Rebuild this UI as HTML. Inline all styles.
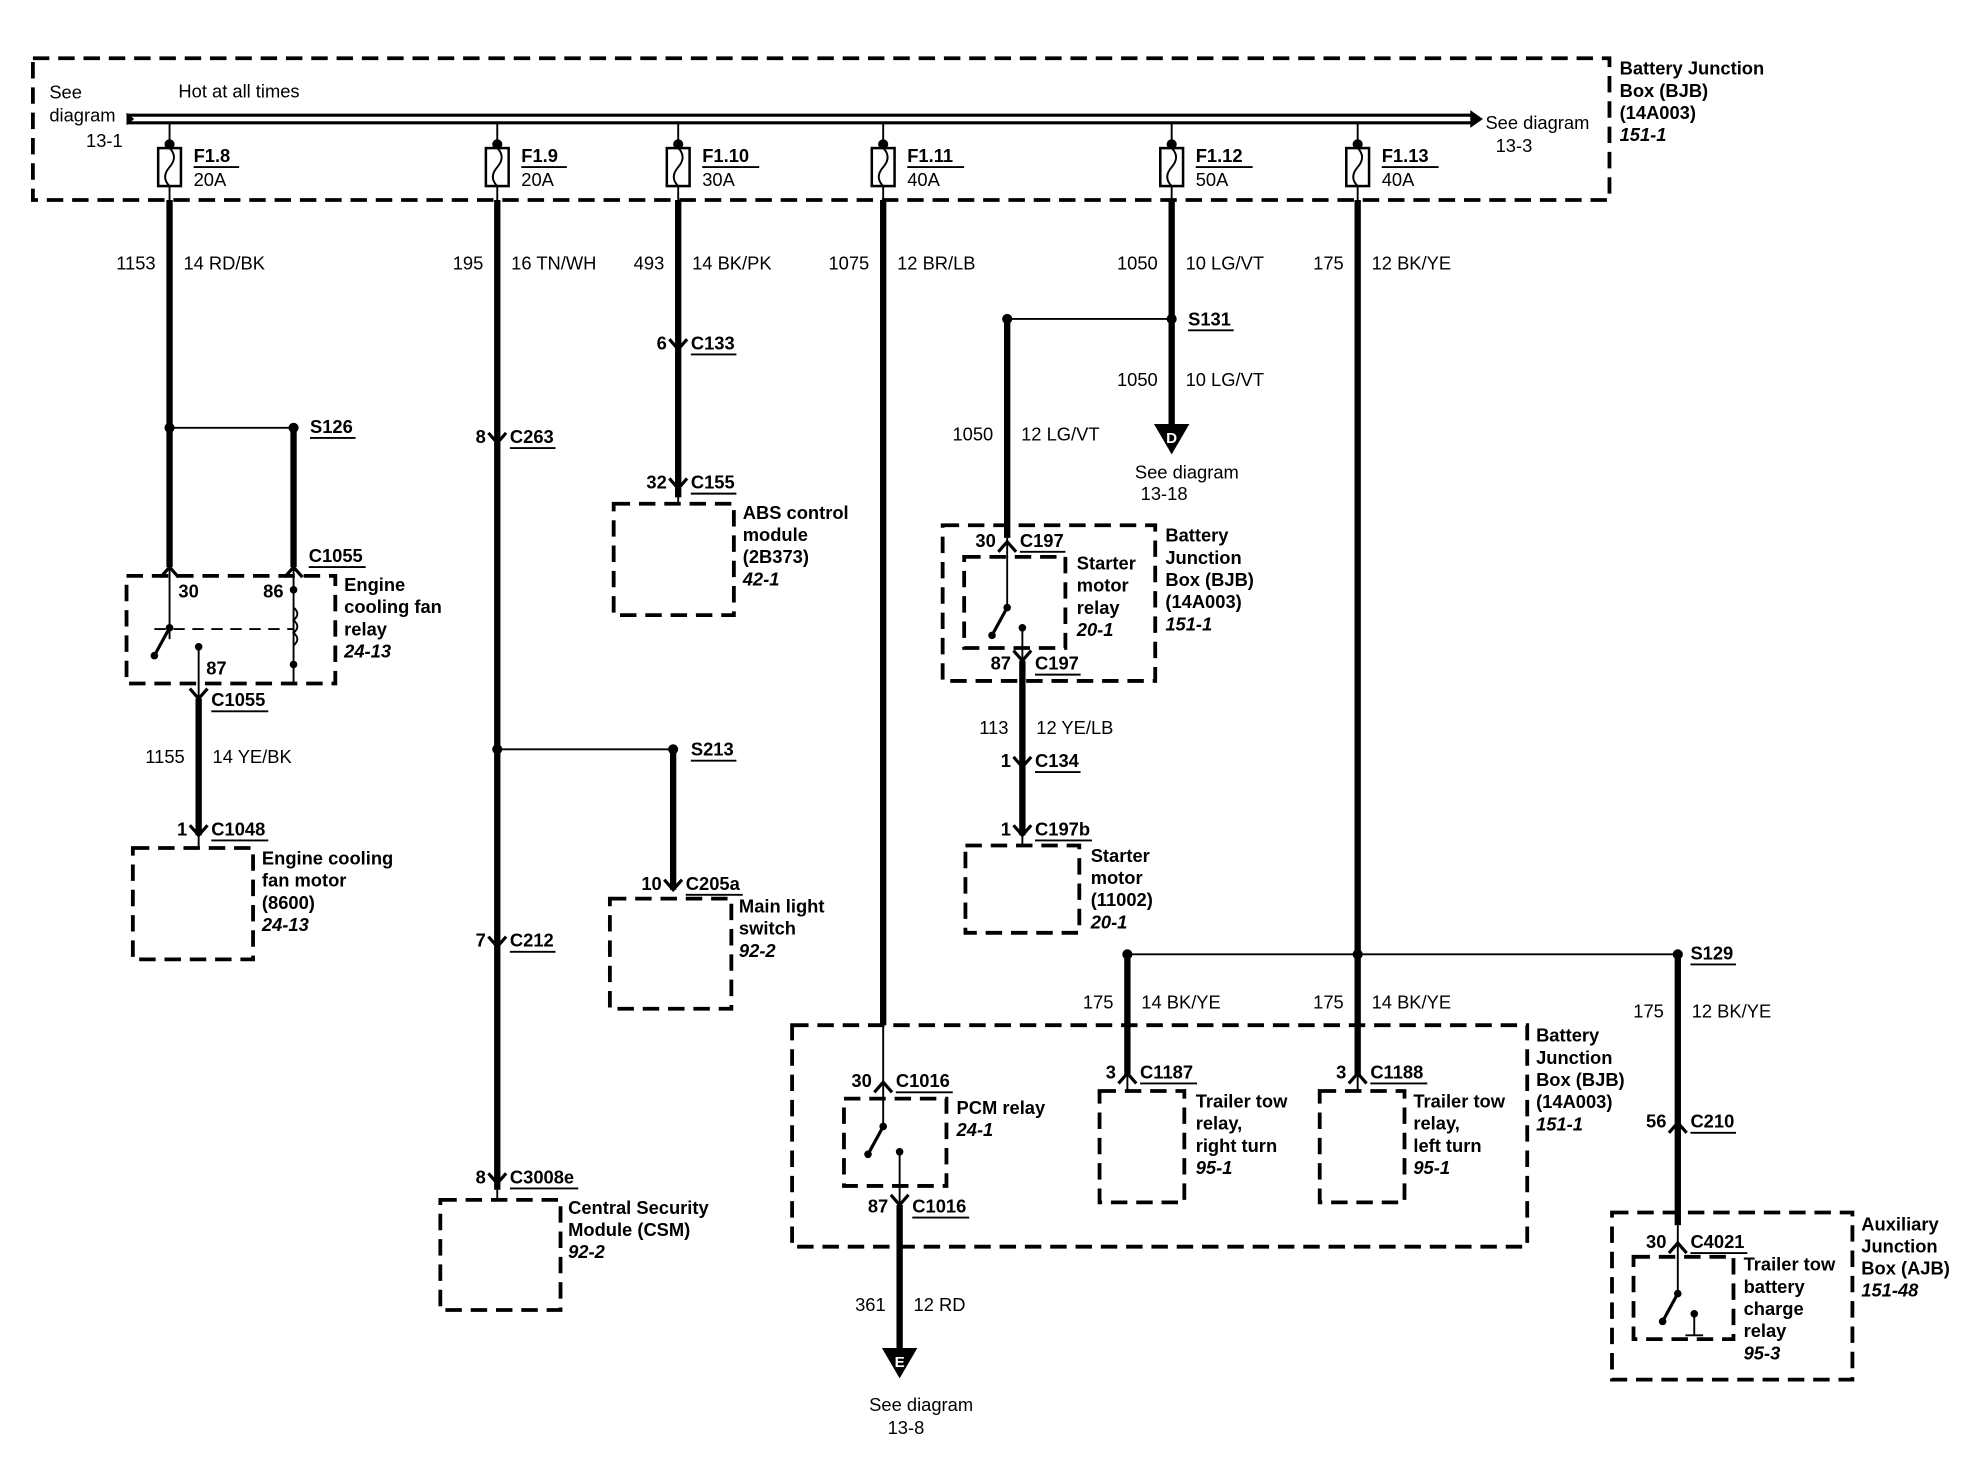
<!DOCTYPE html>
<html><head><meta charset="utf-8"><style>
html,body{margin:0;padding:0;background:#fff;}
svg{display:block;}
text{font-family:"Liberation Sans",Arial,sans-serif;font-size:14.5px;fill:#000;}
.b{font-weight:bold;}
</style></head><body>
<svg id="s" width="1984" height="1472" viewBox="0 0 1568 1163" preserveAspectRatio="none" xmlns="http://www.w3.org/2000/svg"></svg>
<script>
var o='';
function L(x1,y1,x2,y2,w,d){o+='<line x1="'+x1+'" y1="'+y1+'" x2="'+x2+'" y2="'+y2+'" stroke="#000" stroke-width="'+(w||1.5)+'"'+(d?' stroke-dasharray="'+d+'"':'')+'/>';}
function W(x,y1,y2){L(x,y1,x,y2,5);}
function T(x,y,t,c,a){o+='<text x="'+x+'" y="'+y+'"'+(c?' class="'+c+'"':'')+(a?' text-anchor="'+a+'"':'')+'>'+t+'</text>';}
function U(x,y,t){T(x,y,t,'b');var w=t.length*9;L(x,y+4,x+w,y+4,1.5);}
function D(x1,y1,x2,y2){o+='<rect x="'+x1+'" y="'+y1+'" width="'+(x2-x1)+'" height="'+(y2-y1)+'" fill="none" stroke="#000" stroke-width="3" stroke-dasharray="13 7"/>';}
function P(x,y,r){o+='<circle cx="'+x+'" cy="'+y+'" r="'+(r||4)+'"/>';}
function C(x,y,dir,n,name,ly){
 var d=dir>0?-8:8;o+='<path d="M'+(x-7)+' '+(y+d)+' L'+x+' '+y+' L'+(x+7)+' '+(y+d)+'" fill="none" stroke="#000" stroke-width="2.5"/>';
 var yy=ly||(y+(dir>0?0:4));
 if(n)T(x-9,yy,n,'b','end');U(x+10,yy,name);}
function M(x,y,lines){lines.forEach(function(l,i){o+='<text x="'+x+'" y="'+(y+i*17.5)+'" class="b"'+(i==lines.length-1?' font-style="italic"':'')+'>'+l+'</text>';});}
function WL(x,y,n,s){T(x-11,y,n,null,'end');T(x+11,y,s);}
function SW(x,y){P(x,y,3);L(x,y,x-12,y+22,2.5);P(x-12,y+22,3);}
function TRI(x,y,l){o+='<path d="M'+(x-14)+' '+y+' L'+(x+14)+' '+y+' L'+x+' '+(y+24)+'Z"/>';o+='<text x="'+x+'" y="'+(y+15)+'" text-anchor="middle" class="b" style="fill:#fff;font-size:12px">'+l+'</text>';}

D(26,46,1272,158);
L(100,91,1165,91,2.5);L(100,97,1165,97,2.5);
o+='<path d="M1162 87 L1172 94 L1162 101Z"/>';o+='<path d="M100 89 L106 94 L100 99Z"/>';
T(39,78,'See');T(39,96,'diagram');T(68,116,'13-1');
T(141,77,'Hot at all times');
T(1174,102,'See diagram');T(1182,120,'13-3');
M(1280,59,['Battery Junction','Box (BJB)','(14A003)','151-1']);
[[134,'F1.8','20A'],[393,'F1.9','20A'],[536,'F1.10','30A'],[698,'F1.11','40A'],[926,'F1.12','50A'],[1073,'F1.13','40A']].forEach(function(f){
 var x=f[0];L(x,97,x,117,1.5);P(x,114,4);
 o+='<rect x="'+(x-9)+'" y="117" width="18" height="30" fill="#fff" stroke="#000" stroke-width="2"/>';
 o+='<path d="M'+x+' 117 Q'+(x+7)+' 124 '+x+' 132 Q'+(x-7)+' 140 '+x+' 147" fill="none" stroke="#000" stroke-width="1.5"/>';
 L(x,147,x,158,1.5);U(x+19,128,f[1]);T(x+19,147,f[2]);});

W(134,158,448);WL(134,213,'1153','14  RD/BK');
L(134,338,232,338,1.5);P(134,338);P(232,338);U(245,342,'S126');W(232,338,448);
D(100,455,265,540);
C(134,448,-1,'','');C(232,448,-1,'','');U(244,444,'C1055');
L(134,448,134,505,1.5);L(232,448,232,540,1.5);
T(141,472,'30','b');T(208,472,'86','b');SW(134,496);
L(122,497,232,497,1.5,'9 6');P(232,466,3);P(232,525,3);
o+='<path d="M232 480 q6 5 0 10 q6 5 0 10 q6 5 0 10" fill="none" stroke="#000" stroke-width="1.5"/>';
P(157,511,3);L(157,511,157,552,1.5);T(163,533,'87','b');
M(272,467,['Engine','cooling fan','relay','24-13']);
C(157,552,1,'','C1055',558);W(157,552,660);WL(157,603,'1155','14  YE/BK');
C(157,660,1,'1','C1048');L(157,660,157,670,1.5);D(105,670,200,758);
M(207,683,['Engine cooling','fan motor','(8600)','24-13']);

W(393,158,940);WL(393,213,'195','16  TN/WH');
C(393,350,1,'8','C263');
L(393,592,532,592,1.5);P(393,592);P(532,592);U(546,597,'S213');W(532,592,703);
C(532,703,1,'10','C205a');D(482,710,578,797);M(584,721,['Main light','switch','92-2']);
C(393,748,1,'7','C212');C(393,935,1,'8','C3008e');L(393,935,393,948,1.5);
D(348,948,443,1035);M(449,959,['Central Security','Module (CSM)','92-2']);

W(536,158,393);WL(536,213,'493','14  BK/PK');C(536,276,1,'6','C133');
C(536,386,1,'32','C155');L(536,386,536,398,1.5);D(485,398,580,486);
M(587,410,['ABS control','module','(2B373)','42-1']);

W(698,158,810);WL(698,213,'1075','12  BR/LB');
L(698,810,698,890,1.5);C(698,855,-1,'30','C1016',859);
D(626,810,1207,985);D(667,868,748,937);SW(698,890);P(711,910,3);L(711,910,711,952,1.5);
M(756,880,['PCM relay','24-1']);
C(711,952,1,'87','C1016',958);W(711,952,1065);WL(711,1036,'361','12  RD');TRI(711,1065,'E');
T(728,1115,'See diagram','','middle');T(716,1133,'13-8','','middle');
M(1214,823,['Battery','Junction','Box (BJB)','(14A003)','151-1']);

W(926,158,335);WL(926,213,'1050','10  LG/VT');
L(796,252,926,252,1.5);P(796,252);P(926,252);U(939,257,'S131');
WL(926,305,'1050','10  LG/VT');TRI(926,335,'D');
T(938,378,'See diagram','','middle');T(920,395,'13-18','','middle');
W(796,252,425);WL(796,348,'1050','12  LG/VT');
D(745,415,913,538);L(796,425,796,480,1.5);C(796,428,-1,'30','C197',432);
D(762,440,842,512);SW(796,480);P(808,496,3);L(808,496,808,522,1.5);
M(851,450,['Starter','motor','relay','20-1']);M(921,428,['Battery','Junction','Box (BJB)','(14A003)','151-1']);
C(808,522,1,'87','C197',529);W(808,522,660);WL(808,580,'113','12  YE/LB');
C(808,606,1,'1','C134');C(808,660,1,'1','C197b');L(808,660,808,668,1.5);
D(763,668,853,737);M(862,681,['Starter','motor','(11002)','20-1']);

W(1073,158,850);WL(1073,213,'175','12  BK/YE');
L(891,754,1326,754,1.5);P(891,754);P(1073,754);P(1326,754);U(1336,758,'S129');
W(891,754,850);WL(891,797,'175','14  BK/YE');L(891,850,891,862,1.5);C(891,848,-1,'3','C1187');
D(869,862,936,950);M(945,875,['Trailer tow','relay,','right turn','95-1']);
WL(1073,797,'175','14  BK/YE');L(1073,850,1073,862,1.5);C(1073,848,-1,'3','C1188');
D(1043,862,1110,950);M(1117,875,['Trailer tow','relay,','left turn','95-1']);
W(1326,754,968);WL(1326,804,'175','12  BK/YE');C(1326,887,-1,'56','C210');
D(1274,958,1464,1090);L(1326,968,1326,1022,1.5);C(1326,982,-1,'30','C4021');
D(1291,993,1370,1058);SW(1326,1022);P(1339,1038,3);L(1339,1038,1339,1055,1.5);L(1332,1055,1346,1055,1.5);
M(1378,1004,['Trailer tow','battery','charge','relay','95-3']);
M(1471,972,['Auxiliary','Junction','Box (AJB)','151-48']);
document.getElementById('s').innerHTML=o;
</script>
</body></html>
